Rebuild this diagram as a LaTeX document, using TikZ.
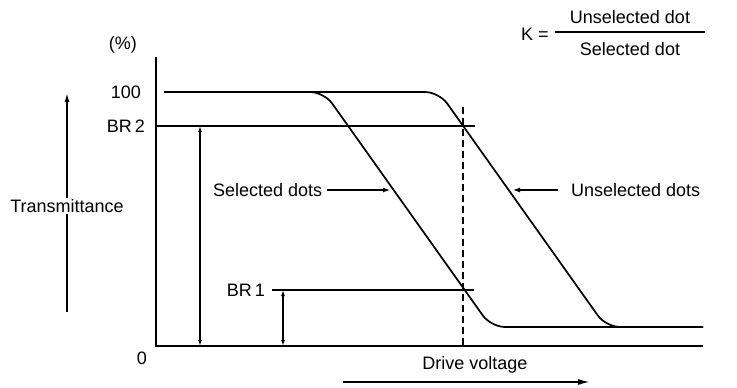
\documentclass[tikz,border=0pt]{standalone}
\usepackage{fontspec}
\setmainfont{Liberation Sans}
\usetikzlibrary{arrows.meta,positioning}

\begin{document}
\begin{tikzpicture}[x=1pt, y=-1pt,
		lbl/.style={font=\fontsize{18}{20}\selectfont, inner sep=1pt},
		dimarrow/.style={{Latex[length=6pt,width=4pt]}-{Latex[length=6pt,width=4pt]}, line width=1.2pt},
		curve/.style={line width=1.7pt, rounded corners=14pt}]
	\useasboundingbox (0,0) rectangle (737,388);

	% axes
	\coordinate (origin) at (156,346);
	\coordinate (ytop) at (156,57);
	\coordinate (xend) at (703,346);
	\draw [line width=1.6pt] (ytop) -- (origin) -- (xend);

	% levels
	\coordinate (br2left) at (156,126);
	\coordinate (br2right) at (475,126);
	\coordinate (br1left) at (272,290);
	\coordinate (br1right) at (474,290);
	\draw [line width=1.4pt] (br2left) -- (br2right);
	\draw [line width=1.4pt] (br1left) -- (br1right);
	\coordinate (dashtop) at (463,107);
	\coordinate (dashbot) at (463,346);
	\draw [dash pattern=on 7pt off 4pt, line width=1.2pt] (dashtop) -- (dashbot);

	% transmission curves
	\draw [curve] (164,92) -- (324,92) -- (491,327) -- (703,327);
	\draw [curve] (164,92) -- (439,92) -- (606,327) -- (703,327);

	% dimension arrows
	\draw [dimarrow] (200,126) -- (200,346);
	\draw [dimarrow] (283,290) -- (283,346);

	% labels
	\node (pct) [lbl, anchor=east] at (138,45) {(\%)};
	\node (hundred) [lbl, anchor=east] at (142,92) {100};
	\node (br2) [lbl, anchor=east] at (146,126) {BR\,2};
	\node (br1) [lbl, anchor=east] at (266,290) {BR\,1};
	\node (zero) [lbl, anchor=east] at (148,358) {0};

	\node (trans) [lbl] at (67,206) {Transmittance};
	\coordinate (transtip) at (67,93);
	\coordinate (transbot) at (67,312);
	\draw [-{Latex[length=9pt,width=5pt]}, line width=1.5pt] (trans.north) -- (transtip);
	\draw [line width=1.5pt] (trans.south) -- (transbot);

	\node (seltext) [lbl, anchor=west] at (212,190) {Selected dots};
	\coordinate (seltip) at (390,190);
	\draw [-{Latex[length=7pt,width=5pt]}, line width=1.2pt] (seltext.east) ++(4,0) -- (seltip);

	\node (unseltext) [lbl, anchor=west] at (570,190) {Unselected dots};
	\coordinate (unseltip) at (513,190);
	\draw [-{Latex[length=7pt,width=5pt]}, line width=1.2pt] (unseltext.west) ++(-12,0) -- (unseltip);

	\node (drive) [lbl] at (475,365) {Drive voltage};
	\coordinate (drivestart) at (343,382);
	\coordinate (driveend) at (590,382);
	\draw [-{Latex[length=12pt,width=6pt]}, line width=1.6pt] (drivestart) -- (driveend);

	% K ratio
	\node (kname) [lbl] at (535,34) {K =};
	\node (numer) [lbl] at (630,17) {Unselected dot};
	\node (denom) [lbl] at (630,49) {Selected dot};
	\coordinate (barleft) at (555,32);
	\coordinate (barright) at (705,32);
	\draw [line width=1.4pt] (barleft) -- (barright);
\end{tikzpicture}
\end{document}
